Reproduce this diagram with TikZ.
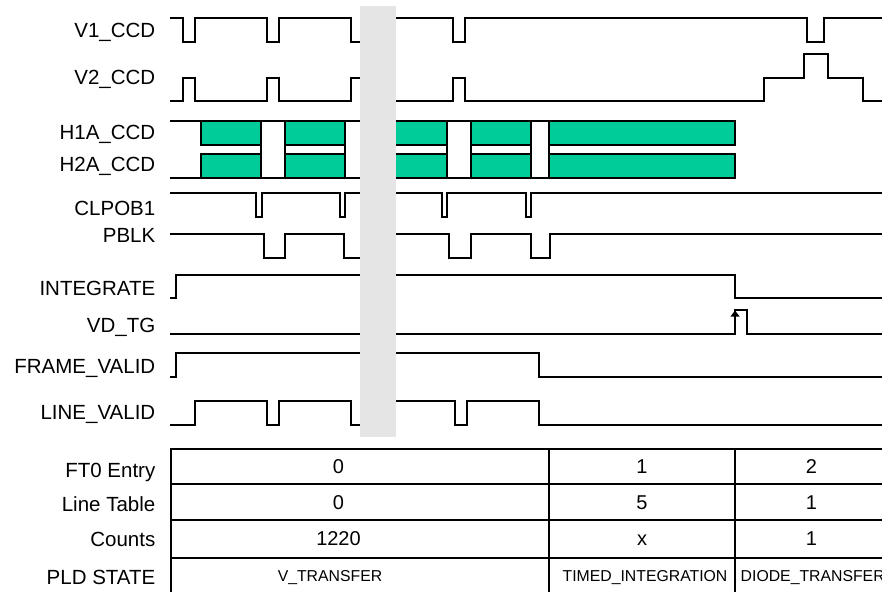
\documentclass[tikz,border=0pt]{standalone}
\usepackage{fontspec}
\setmainfont{Liberation Sans}
\begin{document}
\begin{tikzpicture}[x=1pt,y=-1pt,
  sig/.style={line width=1.8pt, line join=miter, line cap=butt},
  tbl/.style={line width=1.8pt},
  hbox/.style={line width=1.8pt, fill=hteal, line join=miter},
  lbl/.style={anchor=base east, inner sep=0pt, font=\fontsize{20.5}{24}\selectfont},
  val/.style={anchor=base, inner sep=0pt, font=\fontsize{20}{24}\selectfont},
  st/.style={anchor=base, inner sep=0pt, font=\fontsize{15.8}{18}\selectfont}]
\definecolor{hteal}{HTML}{00CC99}
\definecolor{band}{HTML}{E5E5E5}
\useasboundingbox (0,0) rectangle (882,592);
% labels
\node[lbl] (l1) at (155.5,37) {V1\_CCD};
\node[lbl] (l2) at (155.5,84.7) {V2\_CCD};
\node[lbl] (l3) at (155.5,139) {H1A\_CCD};
\node[lbl] (l4) at (155.5,171.7) {H2A\_CCD};
\node[lbl] (l5) at (155.5,215) {CLPOB1};
\node[lbl] (l6) at (155.5,242.7) {PBLK};
\node[lbl] (l7) at (155.5,295) {INTEGRATE};
\node[lbl] (l8) at (155.5,332) {VD\_TG};
\node[lbl] (l9) at (155.5,373) {FRAME\_VALID};
\node[lbl] (l10) at (155.5,419) {LINE\_VALID};
\node[lbl] (t1) at (155.5,477.7) {FT0 Entry};
\node[lbl] (t2) at (155.5,511) {Line Table};
\node[lbl] (t3) at (155.5,546) {Counts};
\node[lbl] (t4) at (155.5,584) {PLD STATE};
% V1
\draw[sig] (170,18) -- (183,18) -- (183,42) -- (195,42) -- (195,18) -- (267,18) -- (267,42) -- (279,42) -- (279,18) -- (351,18) -- (351,42) -- (378,42) -- (378,18) -- (453,18) -- (453,42) -- (465,42) -- (465,18) -- (807,18) -- (807,42) -- (824,42) -- (824,18) -- (882,18);
% V2
\draw[sig] (170,101) -- (183,101) -- (183,78) -- (195,78) -- (195,101) -- (267,101) -- (267,78) -- (279,78) -- (279,101) -- (351,101) -- (351,78) -- (378,78) -- (378,101) -- (453,101) -- (453,78) -- (465,78) -- (465,101) -- (764,101) -- (764,78) -- (804,78) -- (804,54) -- (828,54) -- (828,78) -- (863,78) -- (863,101) -- (882,101);
% H1A / H2A
\draw[sig] (170,121) -- (735,121);
\draw[sig] (170,178) -- (735,178);
\foreach \a/\b in {200.7/261, 285.3/345, 370/447.3, 471/531, 549/735}{
  \draw[hbox] (\a,121) rectangle (\b,145);
  \draw[hbox] (\a,154) rectangle (\b,178);
}
\foreach \x in {261, 285.3, 345, 447.3, 471, 531, 549}{
  \draw[sig] (\x,121) -- (\x,178);
}
% CLPOB1
\draw[sig] (170,193) -- (256,193) -- (256,217) -- (262,217) -- (262,193) -- (340,193) -- (340,217) -- (345,217) -- (345,193) -- (442,193) -- (442,217) -- (447,217) -- (447,193) -- (526,193) -- (526,217) -- (531,217) -- (531,193) -- (882,193);
% PBLK
\draw[sig] (170,234) -- (264,234) -- (264,258) -- (285,258) -- (285,234) -- (344,234) -- (344,258) -- (370,258) -- (370,234) -- (449,234) -- (449,258) -- (471,258) -- (471,234) -- (531,234) -- (531,258) -- (550,258) -- (550,234) -- (882,234);
% INTEGRATE
\draw[sig] (170,298) -- (176,298) -- (176,275) -- (735,275) -- (735,298) -- (882,298);
% VD_TG
\draw[sig] (170,334) -- (735,334) -- (735,310) -- (747,310) -- (747,334) -- (882,334);
\fill (735,310.5) -- (730.5,316.5) -- (739.5,316.5) -- cycle;
% FRAME_VALID
\draw[sig] (170,377) -- (176,377) -- (176,353) -- (539,353) -- (539,377) -- (882,377);
% LINE_VALID
\draw[sig] (170,425) -- (195,425) -- (195,401) -- (267,401) -- (267,425) -- (279,425) -- (279,401) -- (351,401) -- (351,425) -- (378,425) -- (378,401) -- (455,401) -- (455,425) -- (467,425) -- (467,401) -- (539,401) -- (539,425) -- (882,425);
% grey band
\fill[band] (360,6) rectangle (396,437);
% table
\draw[tbl] (170.7,449) -- (882,449);
\draw[tbl] (170.7,484) -- (882,484);
\draw[tbl] (170.7,520) -- (882,520);
\draw[tbl] (170.7,557.7) -- (882,557.7);
\draw[tbl] (170.7,448.1) -- (170.7,592);
\draw[tbl] (548.7,448.1) -- (548.7,592);
\draw[tbl] (735,448.1) -- (735,592);
\node[val] (a1) at (338.5,473.3) {0};
\node[val] (a2) at (338.5,509.3) {0};
\node[val] (a3) at (338.5,545) {1220};
\node[st] (a4) at (330,581.7) {V\_TRANSFER};
\node[val] (b1) at (642,473.3) {1};
\node[val] (b2) at (642,509.3) {5};
\node[val] (b3) at (642,545) {x};
\node[st] (b4) at (645,581.7) {TIMED\_INTEGRATION};
\node[val] (c1) at (811.5,473.3) {2};
\node[val] (c2) at (811.5,509.3) {1};
\node[val] (c3) at (811.5,545) {1};
\node[st, anchor=base west] (c4) at (740.5,581.7) {DIODE\_TRANSFER};
\end{tikzpicture}
\end{document}
